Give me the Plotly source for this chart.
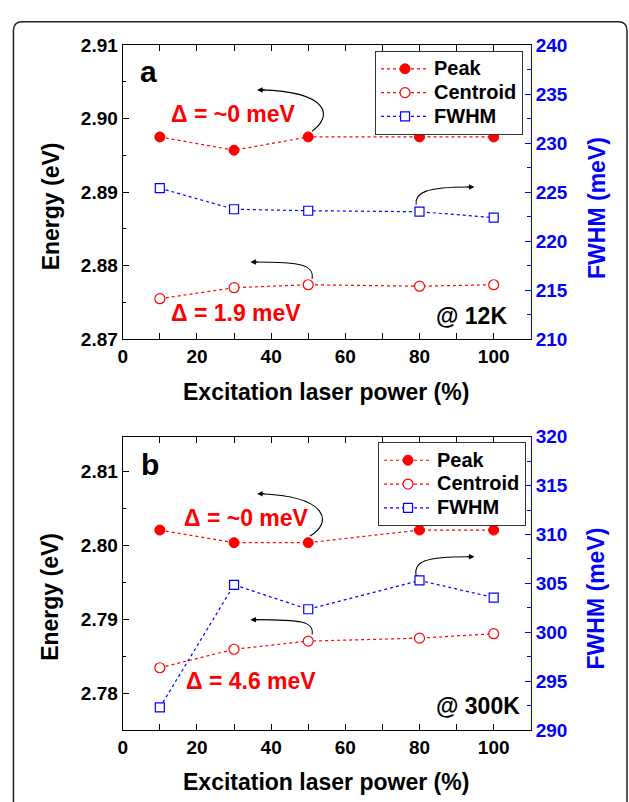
import plotly.graph_objects as go

# ---------------- data ----------------
power = [10, 30, 50, 80, 100]

peak_12k = [2.8975, 2.8957, 2.8975, 2.8975, 2.8975]
centroid_12k = [2.8755, 2.8770, 2.8774, 2.8772, 2.8774]
fwhm_12k = [225.4, 223.25, 223.1, 223.0, 222.4]

peak_300k = [2.8021, 2.8004, 2.8004, 2.8021, 2.8021]
centroid_300k = [2.7835, 2.7860, 2.7871, 2.7875, 2.7881]
fwhm_300k = [292.3, 304.85, 302.35, 305.3, 303.55]

series_names = ["Peak", "Centroid", "FWHM"]

W, H = 629, 802
RED = "#ff0000"
BLUE = "#0000ff"
FONT = "Liberation Sans"


def px(x):
    return x / W


def py(y):
    return 1 - y / H


fig = go.Figure()

def leg_name(s):
    return f"<span style='font-size:20px'>{s}</span>"

def add_panel(xa, ya_left, ya_right, leg, peak, cen, fw):
    fig.add_trace(go.Scatter(
        x=power, y=peak, name=leg_name(series_names[0]), xaxis=xa, yaxis=ya_left, legend=leg,
        mode="lines+markers",
        line=dict(color=RED, width=1.2, dash="dot"),
        marker=dict(symbol="circle", size=10, color=RED, line=dict(color=RED, width=1))))
    fig.add_trace(go.Scatter(
        x=power, y=cen, name=leg_name(series_names[1]), xaxis=xa, yaxis=ya_left, legend=leg,
        mode="lines+markers",
        line=dict(color=RED, width=1.2, dash="dot"),
        marker=dict(symbol="circle", size=10, color="white", line=dict(color=RED, width=1.2))))
    fig.add_trace(go.Scatter(
        x=power, y=fw, name=leg_name(series_names[2]), xaxis=xa, yaxis=ya_right, legend=leg,
        mode="lines+markers",
        line=dict(color=BLUE, width=1.2, dash="dot"),
        marker=dict(symbol="square", size=9, color="white", line=dict(color=BLUE, width=1.2))))

add_panel("x", "y", "y2", "legend", peak_12k, centroid_12k, fwhm_12k)
add_panel("x2", "y3", "y4", "legend2", peak_300k, centroid_300k, fwhm_300k)

xdom = [px(118.7), px(530)]
top_dom = [py(338), py(36)]
bot_dom = [py(739.3), py(438.3)]

tickfont_k = dict(family=FONT, size=19, color="black", weight="bold")
tickfont_b = dict(family=FONT, size=19, color=BLUE, weight="bold")

def xaxis_cfg(anchor):
    return dict(domain=xdom, anchor=anchor, range=[0, 110], dtick=20, tick0=0,
                ticks="inside", ticklen=6, tickwidth=1.2, tickcolor="black",
                minor=dict(dtick=10, ticks="inside", ticklen=3.5, tickwidth=1.2, tickcolor="black"),
                showline=True, linecolor="black", linewidth=1.3, mirror="allticks",
                showgrid=False, zeroline=False, tickfont=tickfont_k)

def yleft_cfg(dom, rng, anchor):
    return dict(domain=dom, anchor=anchor, range=rng, dtick=0.01, tick0=2.0, tickformat=".2f",
                ticks="inside", ticklen=6, tickwidth=1.2, tickcolor="black",
                minor=dict(dtick=0.005, ticks="inside", ticklen=3.5, tickwidth=1.2, tickcolor="black"),
                showline=True, linecolor="black", linewidth=1.3,
                showgrid=False, zeroline=False, tickfont=tickfont_k)

def yright_cfg(overlay, rng, anchor):
    return dict(overlaying=overlay, anchor=anchor, side="right", range=rng, dtick=5,
                ticks="inside", ticklen=6, tickwidth=1.2, tickcolor=BLUE,
                minor=dict(dtick=2.5, ticks="inside", ticklen=3.5, tickwidth=1.2, tickcolor=BLUE),
                showline=True, linecolor=BLUE, linewidth=1.3,
                showgrid=False, zeroline=False, tickfont=tickfont_b)

legend_font = dict(family=FONT, size=16, color="black", weight="bold")

fig.update_layout(
    width=W, height=H,
    margin=dict(l=0, r=0, t=0, b=0),
    paper_bgcolor="white", plot_bgcolor="white",
    showlegend=True,
    xaxis=xaxis_cfg("y"),
    yaxis=yleft_cfg(top_dom, [2.87, 2.91], "x"),
    yaxis2=yright_cfg("y", [210, 240], "x"),
    xaxis2=xaxis_cfg("y3"),
    yaxis3=yleft_cfg(bot_dom, [2.7751, 2.8147], "x2"),
    yaxis4=yright_cfg("y3", [290, 320], "x2"),
    legend=dict(x=px(373), y=py(42), xanchor="left", yanchor="top",
                bordercolor="#333333", borderwidth=1, bgcolor="white",
                font=legend_font, tracegroupgap=0, itemwidth=48),
    legend2=dict(x=px(376), y=py(444), xanchor="left", yanchor="top",
                 bordercolor="#333333", borderwidth=1, bgcolor="white",
                 font=legend_font, tracegroupgap=0, itemwidth=48),
)

annotations = []

def text(x, y, s, size=23, color="black", xanchor="center", angle=0):
    annotations.append(dict(x=px(x), y=py(y), xref="paper", yref="paper", text=s,
                            showarrow=False, xanchor=xanchor, yanchor="middle",
                            textangle=angle,
                            font=dict(family=FONT, size=size, color=color, weight="bold")))

# panel a
text(145, 63, "a", size=30)
text(230, 107, "Δ = ~0 meV", color=RED)
text(233, 311, "Δ = 1.9 meV", color=RED)
text(432, 314, "@ 12K", xanchor="left")
text(46, 202, "Energy (eV)", angle=-90)
text(596, 203, "FWHM (meV)", color=BLUE, angle=-90)
text(324, 392, "Excitation laser power (%)")
# panel b
text(146, 467, "b", size=30)
text(243, 522, "Δ = ~0 meV", color=RED)
text(248, 689, "Δ = 4.6 meV", color=RED)
text(432, 715, "@ 300K", xanchor="left")
text(46, 603, "Energy (eV)", angle=-90)
text(596, 604, "FWHM (meV)", color=BLUE, angle=-90)
text(324, 793, "Excitation laser power (%)")

# curved arrows (paths in data coordinates of the energy axes)
shapes = []

def curve(xr, yr, pts):
    (x0, y0), (x1, y1), (x2, y2), (x3, y3) = pts
    shapes.append(dict(type="path", xref=xr, yref=yr,
                       path=f"M {x0},{y0} C {x1},{y1} {x2},{y2} {x3},{y3}",
                       line=dict(color="black", width=1.1)))

def head(xr, yr, x, y, direction):
    annotations.append(dict(x=x, y=y, xref=xr, yref=yr, text="", showarrow=True,
                            ax=9 * direction, ay=0, arrowhead=2, arrowsize=1,
                            arrowwidth=1.1, arrowcolor="black", standoff=0))

# top panel
curve("x", "y", [(51.05, 2.8983), (56.4, 2.9002), (56.4, 2.9036), (37.2, 2.9039)])
head("x", "y", 36.2, 2.9039, 1)
curve("x", "y", [(79.1, 2.8883), (78.6, 2.8899), (81.7, 2.8907), (93.2, 2.8907)])
head("x", "y", 94.8, 2.8907, -1)
curve("x", "y", [(51.05, 2.8782), (51.6, 2.8801), (48.4, 2.8805), (35.6, 2.8805)])
head("x", "y", 34.4, 2.8805, 1)
# bottom panel
curve("x2", "y3", [(50.5, 2.8013), (56.4, 2.8030), (55.9, 2.8066), (37.2, 2.8070)])
head("x2", "y3", 36.2, 2.8070, 1)
curve("x2", "y3", [(79.1, 2.7959), (78.3, 2.7979), (81.7, 2.7985), (93.2, 2.7985)])
head("x2", "y3", 94.8, 2.7985, -1)
curve("x2", "y3", [(51.05, 2.7880), (51.6, 2.7897), (48.4, 2.7900), (35.6, 2.7900)])
head("x2", "y3", 34.4, 2.7900, 1)

# outer rounded frame
x0, x1 = px(8.5), px(627)
yt, yb = py(12), -0.05
rx, ry = 9 / W, 9 / H
shapes.append(dict(type="path", xref="paper", yref="paper",
                   path=(f"M {x0},{yb} L {x0},{yt - ry} Q {x0},{yt} {x0 + rx},{yt} "
                         f"L {x1 - rx},{yt} Q {x1},{yt} {x1},{yt - ry} L {x1},{yb}"),
                   line=dict(color="#222222", width=1.5)))

fig.update_layout(annotations=annotations, shapes=shapes)

fig.write_html(
    "out.html",
    config={"displayModeBar": False},
    post_script=("document.documentElement.style.margin='0';"
                 "document.body.style.margin='0';document.body.style.overflow='hidden';"
                 "var d=document.getElementById('{plot_id}');"
                 "d.style.position='fixed';d.style.top='0px';d.style.left='0px';"),
)
